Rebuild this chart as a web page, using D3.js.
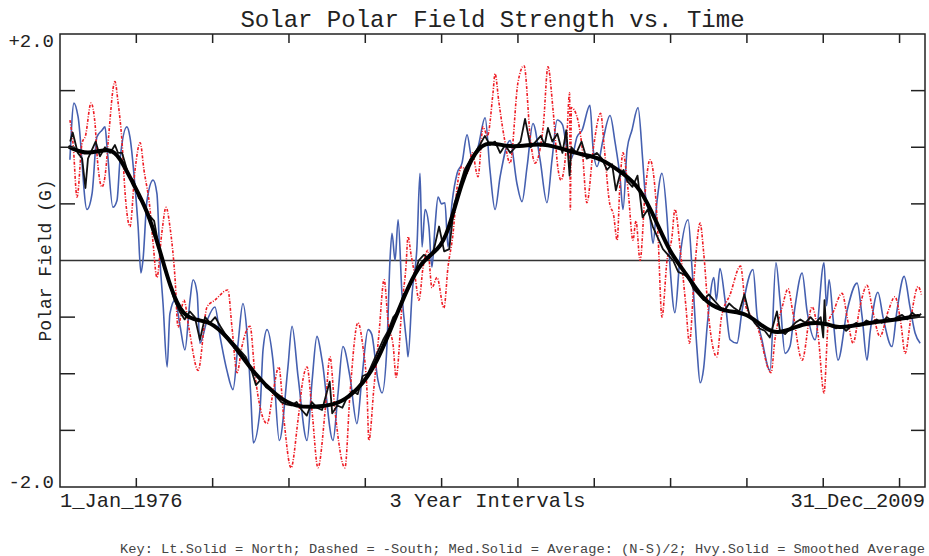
<!DOCTYPE html>
<html>
<head>
<meta charset="utf-8">
<script src="https://cdn.jsdelivr.net/npm/d3@7"></script>
<style>
  html, body { margin: 0; padding: 0; background: #fff; }
  svg { display: block; }
  text { font-family: "Liberation Mono", "Courier New", monospace; fill: #222; }
</style>
</head>
<body>
<svg id="chart" width="929" height="556"></svg>
<script>
// WSO polar field, [decimal year, gauss]
const north = [
  [1976.39,0.89],[1976.55,1.39],[1976.71,1.27],[1977.06,0.45],[1977.26,0.59],[1977.45,1.09],[1977.65,1.15],
  [1977.77,1.18],[1977.85,1.00],[1978.08,0.47],[1978.24,0.53],[1978.36,0.89],[1978.63,1.18],[1978.75,1.09],
  [1978.95,0.65],[1979.07,0.30],[1979.18,-0.11],[1979.26,0.00],[1979.42,0.53],[1979.66,0.71],[1979.81,0.59],
  [1979.93,0.00],[1980.05,-0.38],[1980.21,-0.94],[1980.32,-0.47],[1980.52,-0.35],[1980.72,-0.58],[1980.91,-0.79],
  [1981.11,-0.35],[1981.23,-0.17],[1981.39,-0.29],[1981.50,-0.73],[1981.78,-0.53],[1982.09,-0.41],[1982.29,-0.67],
  [1982.56,-0.97],[1982.80,-1.14],[1983.00,-0.73],[1983.19,-0.38],[1983.35,-0.64],[1983.50,-1.20],[1983.60,-1.61],
  [1983.86,-1.32],[1983.98,-0.79],[1984.14,-0.61],[1984.37,-0.88],[1984.62,-1.59],[1984.96,-0.94],[1985.12,-0.58],
  [1985.36,-1.03],[1985.71,-1.59],[1985.91,-1.06],[1986.10,-0.67],[1986.30,-0.88],[1986.73,-1.59],[1986.93,-1.17],
  [1987.12,-0.76],[1987.40,-1.03],[1987.67,-1.44],[1987.87,-1.03],[1988.11,-0.61],[1988.25,-0.65],[1988.50,-1.06],
  [1988.66,-1.17],[1988.85,-0.76],[1988.97,0.00],[1989.05,0.24],[1989.17,0.00],[1989.29,0.36],[1989.44,-0.29],
  [1989.64,-0.76],[1989.68,-0.85],[1989.84,-0.29],[1990.03,0.12],[1990.15,0.77],[1990.23,0.12],[1990.35,0.45],
  [1990.50,0.30],[1990.62,-0.06],[1990.74,0.30],[1990.86,0.56],[1991.00,0.50],[1991.13,0.51],[1991.25,0.12],
  [1991.41,0.51],[1991.61,0.77],[1991.80,0.86],[1992.00,1.11],[1992.20,0.89],[1992.43,1.00],[1992.71,1.26],
  [1992.90,0.80],[1993.10,0.45],[1993.30,0.74],[1993.69,1.06],[1993.96,0.68],[1994.16,0.52],[1994.36,0.83],
  [1994.59,1.21],[1994.87,0.89],[1995.14,0.51],[1995.34,0.89],[1995.54,1.24],[1995.75,1.20],[1995.93,0.98],
  [1996.10,0.90],[1996.32,1.09],[1996.52,1.15],[1996.83,1.37],[1996.95,1.00],[1997.11,0.83],[1997.34,1.06],
  [1997.62,1.28],[1997.82,1.04],[1998.01,0.74],[1998.13,0.45],[1998.29,0.98],[1998.48,1.15],[1998.72,1.35],
  [1998.90,0.90],[1998.99,0.62],[1999.19,0.38],[1999.31,0.15],[1999.47,0.53],[1999.66,0.77],[1999.86,0.38],
  [1999.98,-0.06],[2000.17,-0.46],[2000.37,0.03],[2000.69,0.36],[2000.84,-0.06],[2001.04,-0.79],[2001.16,-1.08],
  [2001.30,-0.95],[2001.45,-0.55],[2001.70,-0.15],[2001.80,-0.35],[2001.94,-0.07],[2002.14,-0.35],[2002.34,-0.70],
  [2002.61,-0.73],[2002.81,-0.44],[2003.24,-0.08],[2003.40,-0.49],[2003.59,-0.70],[2003.91,-0.97],[2004.14,-0.02],
  [2004.30,-0.35],[2004.50,-0.82],[2004.69,-0.76],[2004.89,-0.41],[2005.17,-0.11],[2005.36,-0.44],[2005.68,-0.70],
  [2006.03,-0.02],[2006.13,-0.40],[2006.23,-0.17],[2006.39,-0.52],[2006.58,-0.88],[2006.94,-0.44],[2007.33,-0.20],
  [2007.53,-0.50],[2007.72,-0.88],[2007.84,-0.64],[2008.15,-0.28],[2008.35,-0.50],[2008.70,-0.76],[2008.90,-0.44],
  [2009.18,-0.14],[2009.41,-0.41],[2009.61,-0.64],[2009.81,-0.73]
];

// south polar field, sign reversed
const negSouth = [
  [1976.39,1.24],[1976.51,1.04],[1976.67,0.56],[1976.87,1.04],[1977.00,1.10],[1977.22,1.39],[1977.38,1.20],
  [1977.45,0.95],[1977.65,0.65],[1977.80,0.80],[1977.89,1.04],[1978.16,1.58],[1978.28,1.40],[1978.44,1.04],
  [1978.56,0.59],[1978.75,0.30],[1978.95,0.80],[1979.15,1.04],[1979.30,0.80],[1979.54,0.45],[1979.66,0.15],
  [1979.81,-0.15],[1980.00,0.24],[1980.17,0.47],[1980.32,0.30],[1980.52,-0.15],[1980.64,-0.59],[1980.87,-0.35],
  [1981.07,-0.60],[1981.43,-0.97],[1981.78,-0.41],[1982.09,-0.35],[1982.60,-0.26],[1982.76,-0.59],[1982.96,-0.99],
  [1983.15,-0.76],[1983.35,-0.61],[1983.47,-0.58],[1983.66,-1.00],[1984.14,-1.44],[1984.37,-1.17],[1984.60,-0.94],
  [1984.80,-1.40],[1985.08,-1.83],[1985.36,-1.40],[1985.55,-1.05],[1985.71,-0.94],[1985.91,-1.34],[1986.14,-1.83],
  [1986.42,-1.33],[1986.61,-0.85],[1986.81,-1.33],[1987.20,-1.83],[1987.40,-1.17],[1987.71,-0.55],[1987.90,-0.75],
  [1988.07,-1.17],[1988.14,-1.59],[1988.34,-1.12],[1988.54,-0.64],[1988.74,-0.17],[1988.90,-0.55],[1989.10,-0.76],
  [1989.21,-1.03],[1989.45,-0.38],[1989.60,-0.05],[1989.68,0.21],[1989.80,0.05],[1989.96,-0.15],[1990.11,-0.35],
  [1990.27,-0.06],[1990.46,0.09],[1990.62,-0.24],[1990.82,-0.15],[1991.09,-0.42],[1991.25,-0.06],[1991.45,0.24],
  [1991.61,0.65],[1991.80,0.83],[1992.00,0.77],[1992.20,0.95],[1992.43,0.74],[1992.63,1.18],[1992.80,1.10],
  [1993.02,1.48],[1993.10,1.65],[1993.25,1.40],[1993.45,1.10],[1993.69,0.86],[1994.00,1.57],[1994.24,1.72],
  [1994.50,1.05],[1994.67,0.86],[1995.00,1.20],[1995.18,1.71],[1995.38,1.33],[1995.58,0.80],[1995.69,0.71],
  [1995.90,1.00],[1996.03,1.48],[1996.06,0.45],[1996.10,1.35],[1996.32,1.27],[1996.52,1.00],[1996.71,0.51],
  [1996.97,1.00],[1997.25,1.30],[1997.40,0.98],[1997.60,0.51],[1997.76,0.40],[1997.90,0.18],[1998.01,0.68],
  [1998.13,0.95],[1998.33,0.62],[1998.52,0.18],[1998.64,0.35],[1998.80,0.00],[1999.00,0.60],[1999.19,0.89],
  [1999.40,0.60],[1999.51,0.20],[1999.66,-0.50],[1999.86,0.00],[2000.05,0.20],[2000.17,0.45],[2000.40,0.05],
  [2000.60,-0.40],[2000.74,-0.73],[2000.94,-0.10],[2001.16,0.33],[2001.30,0.07],[2001.50,-0.50],[2001.82,-0.85],
  [2002.00,-0.50],[2002.34,-0.30],[2002.75,-0.05],[2002.95,-0.40],[2003.20,-0.50],[2003.40,-0.58],[2003.95,-0.99],
  [2004.10,-0.70],[2004.40,-0.40],[2004.62,-0.25],[2004.80,-0.45],[2005.17,-0.88],[2005.56,-0.41],[2005.80,-0.66],
  [2006.03,-1.17],[2006.20,-0.55],[2006.40,-0.45],[2006.74,-0.29],[2006.98,-0.55],[2007.17,-0.73],[2007.45,-0.40],
  [2007.72,-0.22],[2007.95,-0.45],[2008.23,-0.67],[2008.55,-0.45],[2008.82,-0.32],[2009.05,-0.55],[2009.22,-0.82],
  [2009.45,-0.50],[2009.73,-0.23],[2009.86,-0.30]
];

// average (N-S)/2
const average = [
  [1976.4,1.05],[1976.5,1.13],[1976.7,0.95],[1976.87,0.90],[1977.0,0.64],[1977.1,0.90],[1977.4,1.05],[1977.57,0.92],
  [1977.77,1.00],[1977.97,0.95],[1978.16,1.02],[1978.28,0.95],[1978.44,0.95],[1978.7,0.75],[1978.9,0.70],[1979.1,0.55],
  [1979.3,0.50],[1979.5,0.40],[1979.7,0.35],[1979.9,0.10],[1980.1,-0.05],[1980.3,-0.20],[1980.5,-0.35],[1980.7,-0.45],
  [1980.9,-0.52],[1981.1,-0.45],[1981.3,-0.50],[1981.5,-0.70],[1981.7,-0.50],[1981.9,-0.55],[1982.1,-0.50],[1982.3,-0.58],
  [1982.5,-0.65],[1982.7,-0.70],[1982.9,-0.75],[1983.1,-0.80],[1983.3,-0.85],[1983.5,-0.95],[1983.7,-1.10],[1983.9,-1.05],
  [1984.1,-1.12],[1984.3,-1.15],[1984.5,-1.20],[1984.7,-1.25],[1984.9,-1.27],[1985.1,-1.28],[1985.3,-1.25],[1985.5,-1.32],
  [1985.7,-1.37],[1985.9,-1.25],[1986.1,-1.30],[1986.3,-1.32],[1986.6,-1.07],[1986.7,-1.35],[1986.9,-1.28],[1987.1,-1.30],
  [1987.3,-1.20],[1987.5,-1.15],[1987.7,-1.18],[1987.9,-1.02],[1988.1,-1.00],[1988.3,-0.90],[1988.5,-0.80],[1988.7,-0.70],
  [1988.9,-0.62],[1989.1,-0.50],[1989.3,-0.45],[1989.5,-0.30],[1989.7,-0.25],[1989.9,-0.15],[1990.1,0.00],[1990.3,0.05],
  [1990.5,0.02],[1990.7,0.10],[1990.9,0.30],[1991.1,0.08],[1991.3,0.10],[1991.5,0.50],[1991.7,0.65],[1991.9,0.80],
  [1992.1,0.88],[1992.3,0.95],[1992.5,1.02],[1992.7,1.10],[1992.9,1.02],[1993.1,1.05],[1993.3,0.95],[1993.5,1.02],
  [1993.7,0.95],[1993.9,1.00],[1994.1,1.05],[1994.28,1.25],[1994.5,1.00],[1994.7,1.05],[1994.9,1.10],[1995.05,1.02],
  [1995.18,1.17],[1995.35,1.05],[1995.55,1.12],[1995.75,0.95],[1995.9,1.15],[1996.03,0.75],[1996.1,1.00],[1996.3,0.95],
  [1996.5,1.05],[1996.7,0.90],[1996.9,0.92],[1997.1,0.95],[1997.3,0.90],[1997.5,0.80],[1997.7,0.85],[1997.85,0.62],
  [1998.0,0.75],[1998.15,0.80],[1998.3,0.70],[1998.5,0.65],[1998.7,0.75],[1998.9,0.38],[1999.1,0.45],[1999.3,0.30],
  [1999.5,0.20],[1999.7,0.10],[1999.9,0.05],[2000.1,0.00],[2000.3,-0.10],[2000.5,-0.12],[2000.7,-0.15],[2000.9,-0.25],
  [2001.1,-0.30],[2001.3,-0.35],[2001.5,-0.30],[2001.7,-0.35],[2001.9,-0.40],[2002.1,-0.45],[2002.3,-0.38],[2002.5,-0.42],
  [2002.7,-0.45],[2002.9,-0.30],[2003.1,-0.48],[2003.3,-0.55],[2003.5,-0.60],[2003.7,-0.62],[2003.9,-0.68],[2004.18,-0.45],
  [2004.3,-0.62],[2004.5,-0.65],[2004.7,-0.60],[2004.9,-0.55],[2005.1,-0.52],[2005.3,-0.55],[2005.5,-0.50],[2005.7,-0.55],
  [2005.9,-0.50],[2006.0,-0.68],[2006.05,-0.35],[2006.1,-0.55],[2006.3,-0.58],[2006.5,-0.60],[2006.7,-0.58],[2006.9,-0.62],
  [2007.1,-0.58],[2007.3,-0.55],[2007.5,-0.57],[2007.7,-0.53],[2007.9,-0.55],[2008.1,-0.52],[2008.3,-0.55],[2008.5,-0.50],
  [2008.7,-0.53],[2008.9,-0.50],[2009.1,-0.48],[2009.3,-0.52],[2009.5,-0.46],[2009.7,-0.50],[2009.85,-0.47]
];

// low-pass filtered average
const smoothed = [
  [1976.39,1.00],[1977.06,0.93],[1977.97,1.00],[1978.36,0.91],[1978.87,0.68],[1979.42,0.45],[1979.93,0.09],
  [1980.32,-0.23],[1980.83,-0.50],[1981.50,-0.53],[1982.01,-0.55],[1982.80,-0.73],[1983.59,-0.99],[1984.53,-1.20],
  [1985.24,-1.30],[1986.42,-1.29],[1987.08,-1.25],[1987.71,-1.14],[1988.38,-0.94],[1989.05,-0.58],[1989.68,-0.23],
  [1990.23,0.00],[1990.86,0.09],[1991.25,0.24],[1991.80,0.71],[1992.32,0.97],[1992.83,1.06],[1993.69,0.99],
  [1994.87,1.04],[1995.54,1.00],[1996.56,0.93],[1997.22,0.91],[1998.13,0.77],[1998.79,0.65],[1999.47,0.33],
  [1999.98,0.07],[2000.49,-0.08],[2001.04,-0.26],[2001.45,-0.38],[2002.14,-0.45],[2002.93,-0.46],[2003.44,-0.55],
  [2003.99,-0.64],[2004.50,-0.63],[2005.28,-0.55],[2006.07,-0.55],[2006.58,-0.60],[2007.37,-0.57],[2008.15,-0.54],
  [2008.94,-0.52],[2009.73,-0.49]
];

const yearRange = [1976, 2010];
const tickYears = [1979, 1982, 1985, 1988, 1991, 1994, 1997, 2000, 2003, 2006, 2009];
const fieldRange = [-2, 2];
const fieldTicks = [-1.5, -1.0, -0.5, 0.5, 1.0, 1.5];
const yEndLabels = [[2, "+2.0"], [-2, "-2.0"]];
const xLabels = ["1_Jan_1976", "3 Year Intervals", "31_Dec_2009"];
const titleText = "Solar Polar Field Strength vs. Time";
const yTitle = "Polar Field (G)";
const keyText = "Key: Lt.Solid = North; Dashed = -South; Med.Solid = Average: (N-S)/2; Hvy.Solid = Smoothed Average";

(function draw() {
  const svg = d3.select("#chart");
  const pL = 60, pR = 925, pT = 34, pB = 487;

  const x = d3.scaleLinear().domain(yearRange).range([pL, pR]);
  const y = d3.scaleLinear().domain(fieldRange).range([pB, pT]);

  svg.append("defs").append("clipPath").attr("id", "plotClip")
    .append("rect").attr("x", pL).attr("y", pT).attr("width", pR - pL).attr("height", pB - pT);

  const plot = svg.append("g").attr("clip-path", "url(#plotClip)");

  // zero line
  plot.append("line")
    .attr("x1", pL).attr("x2", pR).attr("y1", y(0)).attr("y2", y(0))
    .attr("stroke", "#333").attr("stroke-width", 1.5);

  const wavy = d3.line().x(d => x(d[0])).y(d => y(d[1])).curve(d3.curveMonotoneX);
  const jagged = d3.line().x(d => x(d[0])).y(d => y(d[1]));
  const smoothLine = d3.line().x(d => x(d[0])).y(d => y(d[1])).curve(d3.curveBasis);

  plot.append("path").datum(north).attr("d", wavy)
    .attr("fill", "none").attr("stroke", "#4560b0").attr("stroke-width", 1.6).attr("stroke-linejoin", "round");

  plot.append("path").datum(negSouth).attr("d", wavy)
    .attr("fill", "none").attr("stroke", "#ee1c24").attr("stroke-width", 1.6)
    .attr("stroke-dasharray", "3,1.5,1,1.5");

  plot.append("path").datum(average).attr("d", jagged)
    .attr("fill", "none").attr("stroke", "#111").attr("stroke-width", 1.8).attr("stroke-linejoin", "round");

  plot.append("path").datum(smoothed).attr("d", smoothLine)
    .attr("fill", "none").attr("stroke", "#000").attr("stroke-width", 4).attr("stroke-linecap", "round");

  // frame
  svg.append("rect").attr("x", pL).attr("y", pT).attr("width", pR - pL).attr("height", pB - pT)
    .attr("fill", "none").attr("stroke", "#222").attr("stroke-width", 1.5);

  // inward ticks on all four sides
  const ticks = svg.append("g").attr("stroke", "#222").attr("stroke-width", 1.5);
  ticks.selectAll(".tb").data(tickYears).join("line").attr("class", "tb")
    .attr("x1", d => x(d)).attr("x2", d => x(d)).attr("y1", pB).attr("y2", pB - 9);
  ticks.selectAll(".tt").data(tickYears).join("line").attr("class", "tt")
    .attr("x1", d => x(d)).attr("x2", d => x(d)).attr("y1", pT).attr("y2", pT + 9);
  ticks.selectAll(".tl").data(fieldTicks).join("line").attr("class", "tl")
    .attr("x1", pL).attr("x2", pL + 15).attr("y1", d => y(d)).attr("y2", d => y(d));
  ticks.selectAll(".tr").data(fieldTicks).join("line").attr("class", "tr")
    .attr("x1", pR).attr("x2", pR - 14).attr("y1", d => y(d)).attr("y2", d => y(d));

  // y end labels
  svg.selectAll(".ylab").data(yEndLabels).join("text").attr("class", "ylab")
    .attr("x", 54).attr("y", d => d[0] > 0 ? y(d[0]) + 13 : y(d[0]) + 1)
    .attr("text-anchor", "end").style("font-size", "19px").text(d => d[1]);

  // x labels
  svg.append("text").attr("x", pL).attr("y", 507).attr("text-anchor", "start")
    .style("font-size", "20.4px").text(xLabels[0]);
  svg.append("text").attr("x", (pL + pR) / 2 - 5).attr("y", 507).attr("text-anchor", "middle")
    .style("font-size", "20.4px").text(xLabels[1]);
  svg.append("text").attr("x", pR).attr("y", 507).attr("text-anchor", "end")
    .style("font-size", "20.4px").text(xLabels[2]);

  // title
  svg.append("text").attr("x", (pL + pR) / 2).attr("y", 27).attr("text-anchor", "middle")
    .style("font-size", "24px").text(titleText);

  // y axis title
  svg.append("text").attr("transform", `translate(51,${y(0)}) rotate(-90)`)
    .attr("text-anchor", "middle").style("font-size", "18px").text(yTitle);

  // key
  svg.append("text").attr("x", pR).attr("y", 553).attr("text-anchor", "end")
    .style("font-size", "13.7px").style("fill", "#444").text(keyText);
})();
</script>
</body>
</html>
